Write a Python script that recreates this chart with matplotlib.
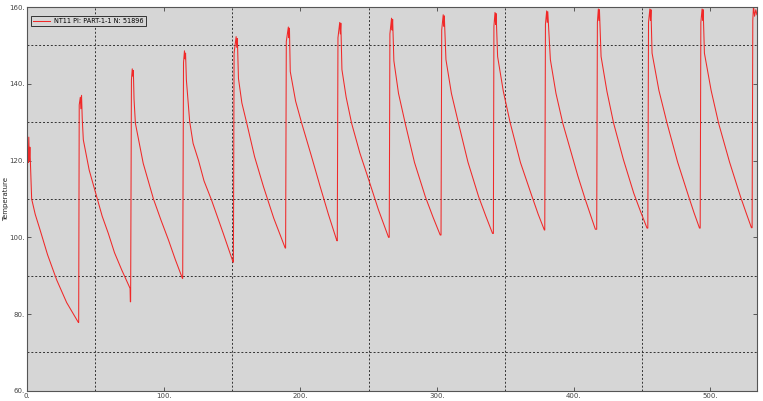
import matplotlib
matplotlib.use("Agg")
import matplotlib.pyplot as plt
from matplotlib.ticker import MultipleLocator, FuncFormatter

# ---- data (time, temperature waypoints) ----
# cycle 1
t_c1 = [0, 0.05, 0.5, 0.9, 1.3, 1.7, 2.1, 2.7, 3.4, 6.0, 9.5, 15.0, 21.7, 29.0, 37.6]
T_c1 = [60, 118, 123, 119.5, 126.1, 120, 123.5, 117.6, 110, 106.0, 102, 95.5, 88.9, 83.0, 77.8]
# cycle 2
t_c2 = [37.8, 38.2, 39.0, 39.4, 39.9, 40.4, 41.2, 45.5, 51.0, 55.0, 59.5, 64.0, 69.3, 75.4, 75.6]
T_c2 = [77.8, 134.5, 136.5, 133.5, 137.0, 131.0, 125.4, 117.5, 110.6, 105.5, 101.0, 96.0, 91.5, 86.7, 83.2]
# cycle 3
t_c3 = [75.8, 76.4, 77.0, 77.4, 77.8, 78.3, 79.3, 85.0, 92.5, 98.0, 103.5, 108.5, 113.7]
T_c3 = [83.2, 141.0, 143.9, 142.0, 143.5, 136.0, 129.7, 119.3, 110.0, 104.5, 99.3, 94.2, 89.3]
# cycle 4
t_c4 = [113.9, 114.5, 115.2, 115.6, 116.0, 116.6, 119.0, 121.5, 125.5, 129.5, 134.9, 143.5, 150.8]
T_c4 = [89.3, 145.5, 148.6, 146.5, 148.0, 141.0, 130.2, 124.5, 120.0, 114.7, 109.8, 101.1, 93.5]
# cycle 5
t_c5 = [151.0, 151.5, 153.0, 153.4, 153.9, 154.7, 157.2, 160.8, 166.5, 173.0, 180.5, 188.9]
T_c5 = [93.5, 148.0, 152.3, 149.5, 151.8, 141.4, 135.0, 129.7, 121.0, 113.2, 105.0, 97.2]
# cycle 6
t_c6 = [189.2, 189.7, 191.2, 191.6, 192.0, 192.6, 196.5, 201.0, 207.8, 214.5, 220.5, 226.7]
T_c6 = [97.2, 151.0, 154.8, 152.0, 154.5, 143.2, 135.5, 129.7, 121.5, 113.2, 106.0, 99.1]
# cycle 7
t_c7 = [227.0, 227.5, 228.8, 229.2, 229.6, 230.4, 233.5, 237.5, 243.5, 250.0, 257.0, 264.5]
T_c7 = [99.1, 152.0, 156.0, 153.0, 155.8, 143.7, 136.5, 129.7, 122.0, 115.0, 107.3, 100.0]
# cycle 8
t_c8 = [265.0, 265.5, 266.7, 267.1, 267.5, 268.4, 271.8, 276.7, 283.5, 291.4, 297.0, 302.3]
T_c8 = [100.0, 153.0, 157.1, 154.0, 156.8, 146.0, 137.5, 129.7, 119.5, 110.6, 105.3, 100.6]
# cycle 9
t_c9 = [302.9, 303.4, 304.5, 304.9, 305.3, 306.5, 310.5, 315.7, 322.6, 330.4, 335.6, 340.6]
T_c9 = [100.6, 154.0, 158.0, 155.0, 157.7, 146.3, 137.5, 129.7, 119.6, 110.6, 105.6, 101.0]
# cycle 10
t_c10 = [341.2, 341.6, 342.4, 342.8, 343.2, 344.3, 348.5, 353.6, 361.0, 369.5, 374.0, 378.5]
T_c10 = [101.0, 155.0, 158.6, 155.5, 158.3, 147.1, 138.0, 129.7, 119.5, 110.6, 106.0, 101.9]
# cycle 11
t_c11 = [378.8, 379.3, 380.2, 380.6, 381.0, 382.9, 387.0, 392.0, 397.5, 403.0, 408.5, 412.3, 415.8]
T_c11 = [101.9, 155.5, 159.0, 156.0, 158.8, 146.3, 137.5, 129.7, 122.8, 116.0, 109.8, 105.8, 102.1]
# cycle 12
t_c12 = [416.8, 417.3, 418.0, 418.4, 418.8, 420.0, 424.3, 429.2, 436.3, 443.9, 448.8, 453.6]
T_c12 = [102.1, 156.0, 159.5, 156.5, 159.3, 147.1, 138.0, 129.7, 120.3, 111.5, 106.8, 102.4]
# cycle 13
t_c13 = [454.2, 454.7, 455.7, 456.1, 456.5, 457.3, 462.3, 468.3, 476.0, 484.1, 488.0, 492.0]
T_c13 = [102.4, 156.0, 159.5, 156.5, 159.3, 148.0, 138.3, 129.7, 119.6, 110.6, 106.4, 102.4]
# cycle 14
t_c14 = [492.5, 493.0, 493.9, 494.3, 494.7, 495.6, 500.5, 506.0, 514.0, 522.0, 526.0, 530.0]
T_c14 = [102.4, 156.0, 159.5, 156.5, 159.3, 148.0, 138.3, 129.7, 119.6, 110.6, 106.5, 102.5]
# cycle 15 (cut at the right edge)
t_c15 = [530.5, 531.0, 531.5, 532.3, 533.2, 534.0]
T_c15 = [102.5, 156.5, 160.3, 157.6, 159.3, 158.0]

series_label = "NT11 PI: PART-1-1 N: 51896"
y_label = "Temperature"

time_all = (t_c1 + t_c2 + t_c3 + t_c4 + t_c5 + t_c6 + t_c7 + t_c8 + t_c9
            + t_c10 + t_c11 + t_c12 + t_c13 + t_c14 + t_c15)
temp_all = (T_c1 + T_c2 + T_c3 + T_c4 + T_c5 + T_c6 + T_c7 + T_c8 + T_c9
            + T_c10 + T_c11 + T_c12 + T_c13 + T_c14 + T_c15)

# ---- figure ----
fig = plt.figure(figsize=(7.63, 4.01), dpi=100)
ax = fig.add_axes([0.0354, 0.0254, 0.9566, 0.957])
ax.set_facecolor("#d6d6d6")

ax.plot(time_all, temp_all, color="#f02828", lw=0.75, label=series_label)

ax.set_xlim(0, 534)
ax.set_ylim(60, 160)

ax.xaxis.set_major_locator(MultipleLocator(100))
ax.xaxis.set_minor_locator(MultipleLocator(50))
ax.yaxis.set_major_locator(MultipleLocator(20))
ax.yaxis.set_minor_locator(MultipleLocator(10))
fmt = FuncFormatter(lambda v, p: f"{v:.0f}.")
ax.xaxis.set_major_formatter(fmt)
ax.yaxis.set_major_formatter(fmt)

ax.tick_params(which="major", direction="in", length=3, width=0.6,
               top=True, right=True, labelsize=5, pad=1.5, colors="#444444",
               labelcolor="#444444")
ax.tick_params(which="minor", length=0)
ax.grid(which="minor", color="#333333", linestyle=(0, (2, 2)), linewidth=0.7)
ax.grid(which="major", visible=False)

for s in ax.spines.values():
    s.set_color("#555555")
    s.set_linewidth(0.8)

ax.set_ylabel(y_label, fontsize=5, color="#222222")
ax.yaxis.set_label_coords(-0.0247, 0.5)

leg = ax.legend(loc="upper left", fontsize=4.7, frameon=True, fancybox=False,
                borderpad=0.35, handlelength=2.6, handletextpad=0.6,
                borderaxespad=0.0, bbox_to_anchor=(0.0055, 0.977))
leg.get_frame().set_edgecolor("#333333")
leg.get_frame().set_facecolor("#d6d6d6")
leg.get_frame().set_linewidth(0.7)
leg.get_frame().set_alpha(1.0)

fig.savefig("out.png", dpi=100)
